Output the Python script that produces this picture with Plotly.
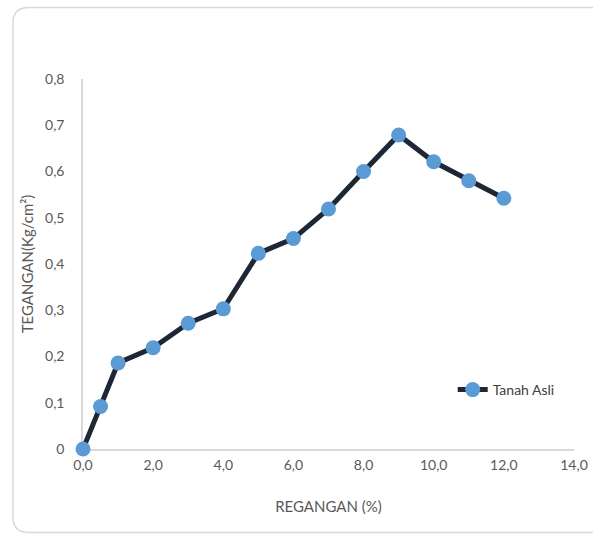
import plotly.graph_objects as go

strain = [0, 0.5, 1, 2, 3, 4, 5, 6, 7, 8, 9, 10, 11, 12]
stress = [0, 0.092, 0.186, 0.219, 0.272, 0.303, 0.423, 0.455, 0.519, 0.600, 0.679, 0.621, 0.580, 0.542]
series_name = "Tanah Asli"

x_ticks = [0, 2, 4, 6, 8, 10, 12, 14]
x_ticktext = ["0,0", "2,0", "4,0", "6,0", "8,0", "10,0", "12,0", "14,0"]
y_ticks = [0, 0.1, 0.2, 0.3, 0.4, 0.5, 0.6, 0.7, 0.8]
y_ticktext = ["0", "0,1", "0,2", "0,3", "0,4", "0,5", "0,6", "0,7", "0,8"]

W, H = 593, 536
L, R, T, B = 82.7, 18.5, 79, 87
pw, ph = W - L - R, H - T - B

def px(x):
    return (x - L) / pw

def py(y):
    return (H - B - y) / ph

fig = go.Figure()
fig.add_trace(go.Scatter(
    x=strain, y=stress, mode="lines+markers", name=series_name,
    line=dict(color="#1e2735", width=5),
    marker=dict(color="#5b9bd5", size=15),
))

# rounded chart border
x0, x1, y0, y1, r = 12.5, 610, 7.5, 532.5, 16
path = (f"M {px(x0+r)},{py(y0)} L {px(x1)},{py(y0)} L {px(x1)},{py(y1)} "
        f"L {px(x0+r)},{py(y1)} Q {px(x0)},{py(y1)} {px(x0)},{py(y1-r)} "
        f"L {px(x0)},{py(y0+r)} Q {px(x0)},{py(y0)} {px(x0+r)},{py(y0)} Z")
fig.add_shape(type="path", xref="paper", yref="paper", path=path,
              line=dict(color="#d9d9d9", width=1.5), layer="below")

font = "Lato, 'Open Sans', sans-serif"
fig.update_layout(
    width=W, height=H,
    margin=dict(l=L, r=R, t=T, b=B, autoexpand=False),
    paper_bgcolor="white", plot_bgcolor="white",
    font=dict(family=font, color="#595959", size=14),
    showlegend=True,
    legend=dict(x=px(453), y=py(390), xanchor="left", yanchor="middle",
                bgcolor="rgba(0,0,0,0)", font=dict(size=14, color="#404040"),
                itemwidth=30),
    xaxis=dict(range=[0, 14], tickvals=x_ticks, ticktext=x_ticktext, automargin=False,
               showgrid=False, zeroline=False, showline=True, linecolor="#d9d9d9",
               linewidth=1.5, ticks="", ticklabelstandoff=2, layer="below traces",
               title=dict(text="REGANGAN (%)", font=dict(size=15), standoff=30)),
    yaxis=dict(range=[0, 0.8], tickvals=y_ticks, ticktext=y_ticktext, automargin=False,
               showgrid=False, zeroline=False, showline=True, linecolor="#d9d9d9",
               linewidth=1.5, ticks="", ticklabelstandoff=14, layer="below traces",
               title=dict(text="TEGANGAN(Kg/cm²)", font=dict(size=15), standoff=8)),
)
fig.update_traces(cliponaxis=False)
fig.write_html("out.html")
